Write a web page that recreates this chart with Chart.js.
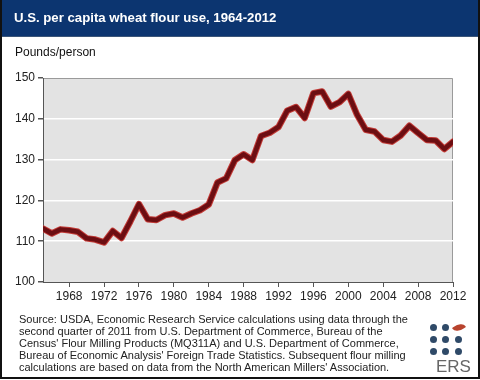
<!DOCTYPE html>
<html><head><meta charset="utf-8">
<script src="https://cdn.jsdelivr.net/npm/chart.js@4/dist/chart.umd.min.js"></script>
<style>
html,body{margin:0;padding:0;background:#fff;}
#wrap{position:relative;width:480px;height:380px;overflow:hidden;background:#fff;font-family:"Liberation Sans",Arial,sans-serif;}
#frame{position:absolute;left:0;top:0;width:476px;height:377px;border-left:2px solid #111;border-right:2px solid #111;border-bottom:2px solid #111;box-sizing:content-box;}
#title{position:absolute;left:0;top:0;width:480px;height:36px;background:#0c3570;border-bottom:1px solid #3b5578;}
#title span{position:absolute;left:14px;top:10px;color:#fff;font-weight:bold;font-size:13.2px;}
#unit{position:absolute;left:15px;top:45px;font-size:12px;color:#111;}
#src{position:absolute;left:19px;top:313px;font-size:11px;line-height:12px;color:#222;white-space:pre;}
#c{position:absolute;left:0;top:0;}
.dot{position:absolute;width:7px;height:7px;border-radius:50%;background:#2f4a68;}
#ers{position:absolute;left:436px;top:357px;font-size:17px;color:#666;letter-spacing:0px;}
#leaf{position:absolute;left:453px;top:324px;width:12px;height:7px;background:#b8432e;border-radius:0 85% 0 85%;transform:rotate(-35deg);}
</style></head>
<body><div id="wrap">
<canvas id="c" width="480" height="380"></canvas>
<div id="title"><span>U.S. per capita wheat flour use, 1964-2012</span></div>
<div id="unit">Pounds/person</div>
<div id="src">Source: USDA, Economic Research Service calculations using data through the
second quarter of 2011 from U.S. Department of Commerce, Bureau of the
Census' Flour Milling Products (MQ311A) and U.S. Department of Commerce,
Bureau of Economic Analysis' Foreign Trade Statistics. Subsequent flour milling
calculations are based on data from the North American Millers' Association.</div>
<div class="dot" style="left:430px;top:324px"></div>
<div class="dot" style="left:442px;top:324px"></div>
<div id="leaf"></div>
<div class="dot" style="left:430px;top:336px"></div>
<div class="dot" style="left:442px;top:336px"></div>
<div class="dot" style="left:455px;top:336px"></div>
<div class="dot" style="left:430px;top:348px"></div>
<div class="dot" style="left:442px;top:348px"></div>
<div class="dot" style="left:455px;top:348px"></div>
<div id="ers">ERS</div>
<div id="frame"></div>
</div>
<script>
const years = [1965,1966,1967,1968,1969,1970,1971,1972,1973,1974,1975,1976,1977,1978,1979,1980,1981,1982,1983,1984,1985,1986,1987,1988,1989,1990,1991,1992,1993,1994,1995,1996,1997,1998,1999,2000,2001,2002,2003,2004,2005,2006,2007,2008,2009,2010,2011,2012];
const flourUse = [113.1,111.9,112.9,112.7,112.3,110.7,110.4,109.7,112.5,110.8,114.8,119.1,115.4,115.2,116.4,116.8,115.8,116.8,117.6,119.0,124.4,125.4,129.9,131.3,129.9,135.8,136.6,138.0,142.0,142.9,140.2,146.3,146.7,143.0,144.1,146.1,141.0,137.3,136.9,134.8,134.4,135.9,138.3,136.5,134.8,134.7,132.6,134.4];
const xTicks = [1968,1972,1976,1980,1984,1988,1992,1996,2000,2004,2008,2012];
const yTicks = [100,110,120,130,140,150];

const pts = years.map((y,i)=>({x:y,y:flourUse[i]}));
const bgPlugin = {
  id:'bg',
  beforeDraw(chart){
    const {ctx, chartArea:a} = chart;
    ctx.save();
    ctx.fillStyle = '#e3e3e3';
    ctx.fillRect(a.left,a.top,a.right-a.left,a.bottom-a.top);
    ctx.strokeStyle = '#9a9a9a';
    ctx.lineWidth = 1;
    ctx.beginPath();
    ctx.moveTo(a.left, a.top+0.5); ctx.lineTo(a.right-0.5, a.top+0.5); ctx.lineTo(a.right-0.5, a.bottom);
    ctx.stroke();
    ctx.restore();
  }
};
new Chart(document.getElementById('c'), {
  type:'line',
  data:{datasets:[
    {data:pts, borderColor:'#6c0e12', borderWidth:4.5, pointRadius:0, tension:0, borderJoinStyle:'round', borderCapStyle:'round', order:0},
    {data:pts, borderColor:'#c23a36', borderWidth:6.5, pointRadius:0, tension:0, borderJoinStyle:'round', borderCapStyle:'round', order:1}
  ]},
  options:{
    responsive:false, animation:false, maintainAspectRatio:false,
    layout:{padding:{left:0, top:78, right:27, bottom:78}},
    plugins:{legend:{display:false}, tooltip:{enabled:false}},
    scales:{
      x:{type:'linear', min:1965, max:2012,
        afterBuildTicks(s){ s.ticks = xTicks.map(v=>({value:v})); },
        afterFit(s){ s.height = 20; },
        grid:{drawOnChartArea:false, drawTicks:true, tickLength:5, tickColor:'#555'},
        border:{display:true, color:'#555', width:1},
        ticks:{padding:2, maxRotation:0, autoSkip:false, color:'#222', font:{family:'"Liberation Sans", Arial, sans-serif', size:12}, callback:v=>String(v)}
      },
      y:{min:100, max:150,
        afterBuildTicks(s){ s.ticks = yTicks.map(v=>({value:v})); },
        afterFit(s){ s.width = 43; },
        grid:{color:c=>(c.tick && (c.tick.value===100||c.tick.value===150))?'rgba(0,0,0,0)':'#ffffff', lineWidth:1.5, drawTicks:true, tickLength:5, tickColor:'#555'},
        border:{display:true, color:'#555', width:1},
        ticks:{padding:3, color:'#222', font:{family:'"Liberation Sans", Arial, sans-serif', size:12}}
      }
    }
  },
  plugins:[bgPlugin]
});
</script>
</body></html>
